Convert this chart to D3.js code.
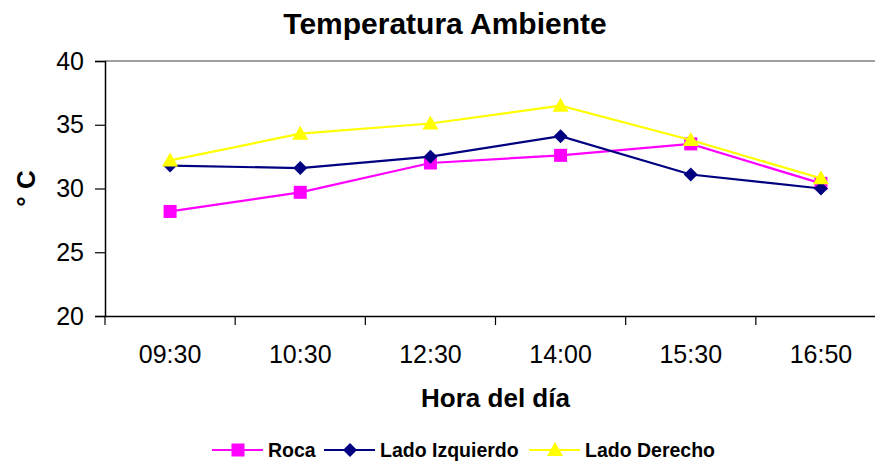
<!DOCTYPE html>
<html><head><meta charset="utf-8">
<script src="https://cdn.jsdelivr.net/npm/d3@7"></script>
<style>body{margin:0;background:#fff;overflow:hidden}svg{display:block;font-family:"Liberation Sans",Arial,sans-serif}</style>
</head><body>
<svg id="c" width="875" height="462"></svg>
<script>
const categories = ["09:30","10:30","12:30","14:00","15:30","16:50"];
const roca = [28.2, 29.7, 32.0, 32.6, 33.5, 30.4];
const ladoIzquierdo = [31.8, 31.6, 32.5, 34.1, 31.1, 30.0];
const ladoDerecho = [32.2, 34.3, 35.1, 36.5, 33.8, 30.8];
const yTicks = [20, 25, 30, 35, 40];
const seriesNames = ["Roca", "Lado Izquierdo", "Lado Derecho"];

const series = [
  {name: seriesNames[0], values: roca, color: "#FF00FF", marker: "square"},
  {name: seriesNames[1], values: ladoIzquierdo, color: "#000080", marker: "diamond"},
  {name: seriesNames[2], values: ladoDerecho, color: "#FFFF00", marker: "triangle"}
];

const FONT = "Liberation Sans, Arial, sans-serif";
const svg = d3.select("#c");
const L = 105, R = 886, T = 61, B = 316;
const x = d3.scaleBand().domain(categories).range([L, R]);
const y = d3.scaleLinear().domain([20, 40]).range([B, T]);

// top border
svg.append("line").attr("x1", L).attr("x2", R).attr("y1", T).attr("y2", T)
  .attr("stroke", "#808080").attr("stroke-width", 1.5);

// y axis
const ya = svg.append("g").attr("transform", `translate(${L},0)`)
  .call(d3.axisLeft(y).tickValues(yTicks).tickSize(10).tickPadding(11));
ya.select(".domain").attr("stroke", "#000").attr("stroke-width", 1.5);
ya.selectAll(".tick line").attr("stroke", "#000").attr("stroke-width", 1.2);
ya.selectAll("text").attr("font-size", 25).attr("fill", "#000").attr("font-family", FONT);

// x axis
const xa = svg.append("g").attr("transform", `translate(0,${B})`)
  .call(d3.axisBottom(x).tickSize(0).tickPadding(29));
xa.select(".domain").attr("stroke", "#000").attr("stroke-width", 1.5);
xa.selectAll("text").attr("font-size", 25).attr("fill", "#000").attr("font-family", FONT);
// category boundary ticks
const bounds = categories.map((c) => x(c)).concat([R]);
svg.append("g").selectAll("line").data(bounds).join("line")
  .attr("x1", d => d).attr("x2", d => d).attr("y1", B).attr("y2", B + 9)
  .attr("stroke", "#000").attr("stroke-width", 1.2);

const cx = c => x(c) + x.bandwidth() / 2;

function drawMarker(g, type, color, px, py) {
  if (type === "square") {
    g.append("rect").attr("x", px - 6.5).attr("y", py - 6.5).attr("width", 13).attr("height", 13).attr("fill", color);
  } else if (type === "diamond") {
    g.append("path").attr("d", `M${px},${py-7}L${px+7},${py}L${px},${py+7}L${px-7},${py}Z`).attr("fill", color);
  } else {
    g.append("path").attr("d", `M${px},${py-8}L${px+8},${py+6}L${px-8},${py+6}Z`).attr("fill", color);
  }
}

const line = d3.line().x((d, i) => cx(categories[i])).y(d => y(d));
series.forEach(s => {
  const g = svg.append("g");
  g.append("path").attr("d", line(s.values)).attr("fill", "none").attr("stroke", s.color).attr("stroke-width", 2.2);
  s.values.forEach((v, i) => drawMarker(g, s.marker, s.color, cx(categories[i]), y(v)));
});

// title
svg.append("text").attr("x", 445).attr("y", 34).attr("text-anchor", "middle")
  .attr("font-size", 30).attr("font-weight", "bold").text("Temperatura Ambiente");
// x title
svg.append("text").attr("x", (L + R) / 2).attr("y", 407).attr("text-anchor", "middle")
  .attr("font-size", 26).attr("font-weight", "bold").text("Hora del día");
// y title
svg.append("text").attr("transform", `translate(35,${(T + B) / 2}) rotate(-90)`).attr("text-anchor", "middle")
  .attr("font-size", 26).attr("font-weight", "bold").text("° C");

// legend
const legendX = [212, 324, 529];
series.forEach((s, i) => {
  const g = svg.append("g");
  const lx = legendX[i], ly = 450;
  g.append("line").attr("x1", lx).attr("x2", lx + 51).attr("y1", ly).attr("y2", ly)
    .attr("stroke", s.color).attr("stroke-width", 2.2);
  drawMarker(g, s.marker, s.color, lx + 26, ly);
  g.append("text").attr("x", lx + 56).attr("y", ly + 7).attr("font-size", 19.5).attr("font-weight", "bold").text(s.name);
});
</script>
</body></html>
